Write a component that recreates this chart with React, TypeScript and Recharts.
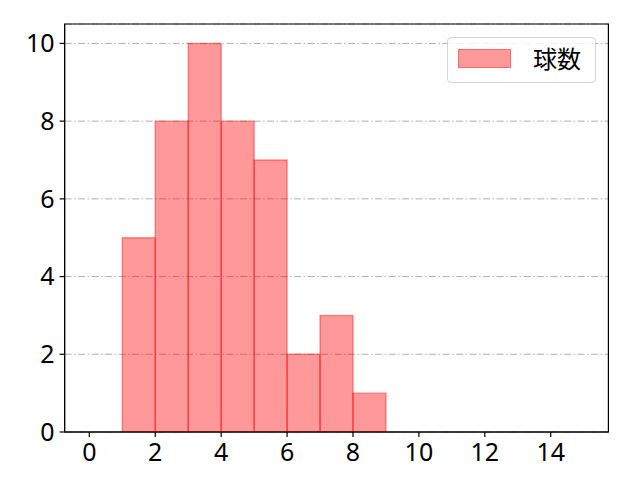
import React from 'react';
import { ComposedChart, Bar, XAxis, YAxis, CartesianGrid, ReferenceArea } from 'recharts';

const binCenters = [0.5, 1.5, 2.5, 3.5, 4.5, 5.5, 6.5, 7.5, 8.5, 9.5, 10.5, 11.5, 12.5, 13.5, 14.5];
const counts = [0, 5, 8, 10, 8, 7, 2, 3, 1, 0, 0, 0, 0, 0, 0];
const xTicks = [0, 2, 4, 6, 8, 10, 12, 14];
const yTicks = [0, 2, 4, 6, 8, 10];
const xDomain = [-0.75, 15.75];
const yDomain = [0, 10.5];
const seriesName = '球数';

const data = binCenters.map((x, i) => ({ x, count: counts[i] }));

const TICK_FONT = '"Noto Sans", "Noto Sans CJK JP", sans-serif';
const CJK_FONT = '"Noto Sans CJK JP", "Noto Sans", sans-serif';

// legend drawn as a plain overlay so it takes no room from the plot
const LegendBox = () => (
    <div
        style={{
            position: 'absolute',
            left: 447,
            top: 37,
            width: 149,
            height: 46,
            boxSizing: 'border-box',
            border: '1px solid #d3d3d3',
            borderRadius: 4,
            background: 'rgba(255,255,255,0.8)',
            display: 'flex',
            alignItems: 'flex-start',
            fontFamily: CJK_FONT,
            fontSize: 24,
            color: '#000',
        }}
    >
        <div
            style={{
                width: 53,
                height: 19,
                marginLeft: 10,
                marginTop: 11,
                background: 'rgba(255,0,0,0.4)',
                border: '1px solid rgba(255,0,0,0.3)',
                boxSizing: 'border-box',
            }}
        />
        <span style={{ marginLeft: 22, marginTop: 8, lineHeight: 1 }}>{seriesName}</span>
    </div>
);

export default function App() {
    return (
        <div style={{ position: 'absolute', left: 0, top: 0, width: 640, height: 480, background: '#fff' }}>
            <ComposedChart
                width={640}
                height={480}
                data={data}
                margin={{ top: 24, right: 31.6, bottom: 0, left: 0 }}
                barCategoryGap={0}
                barGap={0}
            >
                <CartesianGrid
                    vertical={false}
                    stroke="#b0b0b0"
                    strokeWidth={1}
                    strokeDasharray="7 2.5 1.5 2.5"
                />
                <XAxis
                    dataKey="x"
                    type="number"
                    domain={xDomain}
                    ticks={xTicks}
                    allowDataOverflow
                    height={48}
                    axisLine={{ stroke: '#000', strokeWidth: 1.2 }}
                    tickLine={{ stroke: '#000', strokeWidth: 1.2 }}
                    tickSize={5}
                    tickMargin={6}
                    tick={{ fill: '#000', fontSize: 25, fontFamily: TICK_FONT }}
                />
                <YAxis
                    type="number"
                    domain={yDomain}
                    ticks={yTicks}
                    allowDataOverflow
                    width={64.6}
                    axisLine={{ stroke: '#000', strokeWidth: 1.2 }}
                    tickLine={{ stroke: '#000', strokeWidth: 1.2 }}
                    tickSize={5}
                    tickMargin={5}
                    tick={{ fill: '#000', fontSize: 25, fontFamily: TICK_FONT }}
                />
                <Bar
                    dataKey="count"
                    name={seriesName}
                    fill="#ff0000"
                    fillOpacity={0.4}
                    stroke="#ff0000"
                    strokeOpacity={0.4}
                    strokeWidth={1.4}
                    isAnimationActive={false}
                />
                {/* full frame round the plot area */}
                <ReferenceArea
                    x1={xDomain[0]}
                    x2={xDomain[1]}
                    y1={yDomain[0]}
                    y2={yDomain[1]}
                    fill="none"
                    stroke="#000"
                    strokeWidth={1.2}
                    ifOverflow="visible"
                />
            </ComposedChart>
            <LegendBox />
        </div>
    );
}
